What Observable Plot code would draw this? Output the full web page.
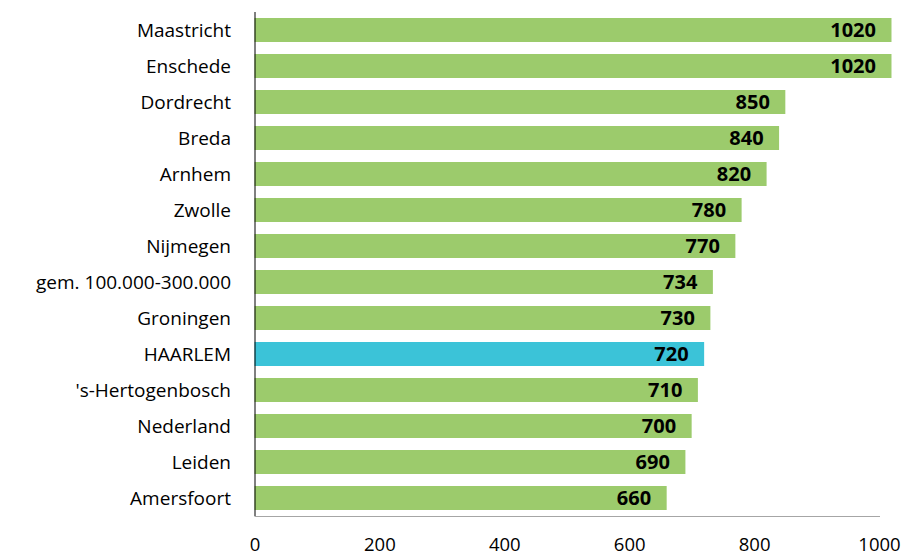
<!DOCTYPE html>
<html><head><meta charset="utf-8">
<script src="https://cdn.jsdelivr.net/npm/d3@7"></script>
<script src="https://cdn.jsdelivr.net/npm/@observablehq/plot@0.6"></script>
<style>body{margin:0;background:#fff}</style>
</head><body><div id="chart"></div>
<script>
const categories = ["Maastricht","Enschede","Dordrecht","Breda","Arnhem","Zwolle","Nijmegen","gem. 100.000-300.000","Groningen","HAARLEM","'s-Hertogenbosch","Nederland","Leiden","Amersfoort"];
const values = [1020,1020,850,840,820,780,770,734,730,720,710,700,690,660];
const highlight = "HAARLEM";
const xTicks = [0,200,400,600,800,1000];

const data = categories.map((c,i)=>({name:c, value:values[i]}));
const font = "'Open Sans', sans-serif";

const chart = Plot.plot({
  width: 904, height: 557,
  marginLeft: 254.5, marginRight: 25, marginTop: 12, marginBottom: 41,
  style: {fontFamily: font, fontSize: "19px", color: "#000", background: "#fff"},
  x: {domain: [0,1000], ticks: xTicks, label: null},
  y: {domain: categories, paddingInner: 1/3, paddingOuter: 1/6, label: null},
  marks: [
    Plot.barX(data, {y:"name", x:"value", fill: d => d.name === highlight ? "#3bc3d8" : "#9ccb6c"}),
    Plot.text(data, {y:"name", x:"value", text: d => String(d.value), textAnchor:"end", dx:-16, fontWeight:"bold", fontSize:20, fill:"#000"}),
    Plot.axisX({ticks: xTicks, tickFormat: d => String(d), tickSize:0, tickPadding:21, fontSize:18.5, label:null}),
    Plot.axisY({tickSize:0, tickPadding:24, fontSize:19, label:null}),
    Plot.frame({anchor:"bottom", stroke:"#a6a6a6"}),
    Plot.ruleX([0], {stroke:"#000"})
  ]
});
document.getElementById("chart").appendChild(chart);
</script></body></html>
